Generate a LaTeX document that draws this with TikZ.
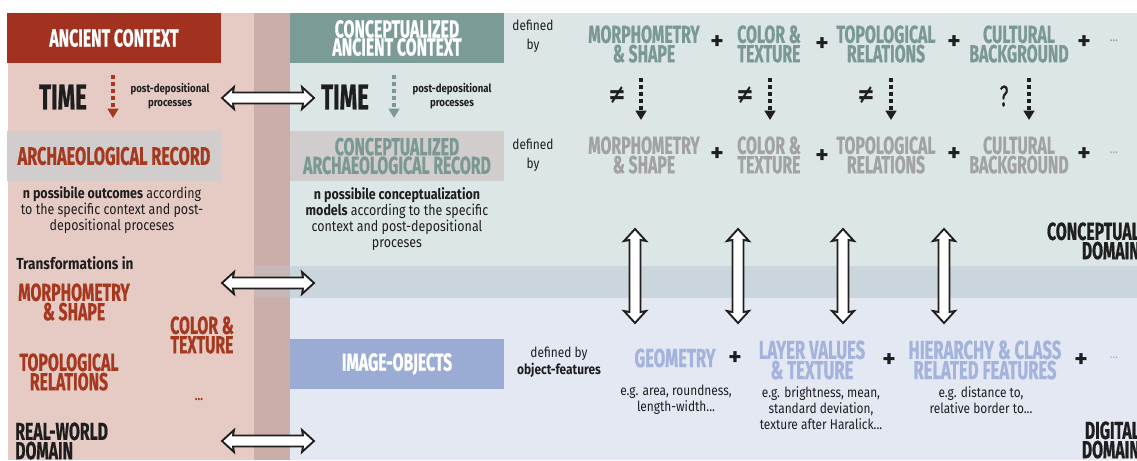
\documentclass[tikz,border=0pt]{standalone}
\usepackage{fontspec}
\setmainfont[FakeStretch=0.85]{Fira Sans}
\newfontfamily\cf[FakeStretch=0.64,FakeBold=0.6]{Fira Sans}
\newfontfamily\tf[FakeStretch=0.62,FakeBold=0.6]{Fira Sans}
\newfontfamily\pf{Fira Sans}
\newfontfamily\dv[FakeStretch=0.8]{DejaVu Sans}
\usetikzlibrary{arrows.meta}
\definecolor{pinkbg}{HTML}{E6CBC5}
\definecolor{stripc}{HTML}{CBAEAA}
\definecolor{stripband}{HTML}{C6B7B8}
\definecolor{tealbg}{HTML}{DCE6E6}
\definecolor{bandbg}{HTML}{CAD6DB}
\definecolor{lavbg}{HTML}{E4E8F3}
\definecolor{redbox}{HTML}{A2321F}
\definecolor{tealbox}{HTML}{7B9B97}
\definecolor{graybox}{HTML}{D1CDCC}
\definecolor{lavbox}{HTML}{9BACD4}
\definecolor{redtxt}{HTML}{A5381F}
\definecolor{tealtxt}{HTML}{7A9994}
\definecolor{graytxt}{HTML}{A2A2A2}
\definecolor{lavtxt}{HTML}{A3B3DC}
\definecolor{ink}{HTML}{1E1E1E}
\begin{document}
\begin{tikzpicture}[x=0.75pt,y=-0.75pt,
  boxn/.style={minimum width=160.5pt,minimum height=38pt,inner sep=0pt,align=center},
  hd/.style={font=\cf\bfseries\fontsize{18.5}{13.5}\selectfont},
  hd2/.style={font=\cf\bfseries\fontsize{18.5}{14}\selectfont},
  hdl/.style={font=\cf\bfseries\fontsize{19}{13}\selectfont},
  item/.style={font=\cf\bfseries\fontsize{18.5}{14.5}\selectfont,align=center,inner sep=0pt},
  itemb/.style={font=\cf\bfseries\fontsize{19.5}{13.5}\selectfont,align=center,inner sep=0pt},
  timet/.style={font=\tf\bfseries\fontsize{27}{27}\selectfont,text=ink,inner sep=0pt},
  pdp/.style={font=\bfseries\fontsize{8.5}{10.5}\selectfont,align=center,text=ink,inner sep=0pt},
  body/.style={font=\fontsize{11}{12}\selectfont,align=center,text=ink,inner sep=0pt},
  desc/.style={font=\fontsize{10.5}{12}\selectfont,align=center,text=ink,inner sep=0pt},
  small/.style={font=\fontsize{10.5}{14}\selectfont,align=center,text=ink,inner sep=0pt},
  plus/.style={font=\pf\bfseries\fontsize{19}{19}\selectfont,text=ink,inner sep=0pt},
  neqs/.style={font=\dv\bfseries\fontsize{20}{20}\selectfont,text=ink,inner sep=0pt},
  dom/.style={font=\cf\bfseries\fontsize{18.5}{13}\selectfont,text=ink,inner sep=0pt},
  dotarr/.style={line width=2.8pt,dash pattern=on 3pt off 2.2pt,-{Triangle[width=8pt,length=7pt]}},
  dblsty/.style={draw=ink,line width=1.4pt,fill=white,line join=miter},
  pics/dbl/.style={code={
    \draw[dblsty] (-#1,0) -- (-#1+12,-11) -- (-#1+11,-5.5) -- (#1-11,-5.5) -- (#1-12,-11)
      -- (#1,0) -- (#1-12,11) -- (#1-11,5.5) -- (-#1+11,5.5) -- (-#1+12,11) -- cycle;}}
]
\useasboundingbox (0,0) rectangle (1137,460);
\fill[white] (0,0) rectangle (1137,460);
% backgrounds
\fill[pinkbg] (8,13) rectangle (254,460);
\fill[stripc] (254,13) rectangle (290,460);
\fill[tealbg] (290,13) rectangle (1137,266);
\fill[bandbg] (290,266) rectangle (1137,298);
\fill[stripband] (254,266) rectangle (290,298);
\fill[lavbg] (290,298) rectangle (1137,460);

% ---- left column
\node[boxn,hd,fill=redbox,text=white] (ac) at (114,38) {ANCIENT CONTEXT};
\node[timet] (t1) at (63,97) {TIME};
\coordinate (d1a) at (113,75); \coordinate (d1b) at (113,118);
\draw[dotarr,redtxt] (d1a) -- (d1b);
\node[pdp] (p1) at (170,96) {post-depositional\\processes};
\node[boxn,hdl,fill=graybox,text=redtxt] (ar) at (114,156) {ARCHAEOLOGICAL RECORD};
\node[body] (o1) at (112,210) {\textbf{n possibile outcomes} according\\to the specific context and post-\\depositional proceses};
\node[font=\bfseries\fontsize{12}{12}\selectfont,text=ink,anchor=west,inner sep=0pt] (tr) at (16,263) {Transformations in};
\node[item,text=redtxt] (lm) at (74,302) {MORPHOMETRY\\\&{} SHAPE};
\node[item,text=redtxt] (lc) at (202,335) {COLOR \&\\TEXTURE};
\node[item,text=redtxt] (lt) at (69,372) {TOPOLOGICAL\\RELATIONS};
\node[font=\bfseries\fontsize{10}{10}\selectfont,text=redtxt,inner sep=0pt] (ld) at (199,400) {...};
\node[dom,anchor=west,align=left] (rw) at (15,441) {REAL-WORLD\\DOMAIN};

% ---- horizontal double arrows
\coordinate (h1) at (268,98);
\coordinate (h2) at (268,283);
\coordinate (h3) at (268,441);
\pic at (h1) {dbl=46};
\pic at (h2) {dbl=46};
\pic at (h3) {dbl=46};

% ---- conceptual column
\node[boxn,hd,fill=tealbox,text=white] (cac) at (397,38) {CONCEPTUALIZED\\ANCIENT CONTEXT};
\node[timet] (t2) at (345,97) {TIME};
\coordinate (d2a) at (394,75); \coordinate (d2b) at (394,118);
\draw[dotarr,tealtxt] (d2a) -- (d2b);
\node[pdp] (p2) at (452,96) {post-depositional\\processes};
\node[boxn,hd2,fill=graybox,text=tealtxt] (car) at (397,156) {CONCEPTUALIZED\\ARCHAEOLOGICAL RECORD};
\node[body] (o2) at (397,219) {\textbf{n possibile conceptualization}\\\textbf{models} according to the specific\\context and post-depositional\\proceses};
\node[boxn,hd,fill=lavbox,text=white] (io) at (397,364) {IMAGE-OBJECTS};

% ---- row 1
\node[small] (db1) at (533,36) {defined\\by};
\node[item,text=tealtxt] (m1) at (644,44) {MORPHOMETRY\\\&{} SHAPE};
\node[plus] (pa1) at (717,43) {+};
\node[item,text=tealtxt] (c1) at (769,44) {COLOR \&\\TEXTURE};
\node[plus] (pa2) at (822,45) {+};
\node[item,text=tealtxt] (tp1) at (886,44) {TOPOLOGICAL\\RELATIONS};
\node[plus] (pa3) at (954,43) {+};
\node[item,text=tealtxt] (cb1) at (1019,44) {CULTURAL\\BACKGROUND};
\node[plus] (pa4) at (1084,43) {+};
\node[font=\fontsize{10}{10}\selectfont,text=tealtxt,inner sep=0pt] (e1) at (1114,41) {...};

% ---- inequality row
\node[neqs] (n1) at (617,95) {≠};
\node[neqs] (n2) at (745,95) {≠};
\node[neqs] (n3) at (866,95) {≠};
\node[font=\cf\fontsize{22}{22}\selectfont,text=ink,inner sep=0pt] (n4) at (1004,96) {?};
\foreach \i/\x in {1/641,2/770,3/891,4/1029}{
  \coordinate (ka\i) at (\x,78); \coordinate (kb\i) at (\x,120);
  \draw[dotarr,ink,line width=2.6pt] (ka\i) -- (kb\i);
}

% ---- row 2
\node[small] (db2) at (533,155) {defined\\by};
\node[item,text=graytxt] (m2) at (644,155) {MORPHOMETRY\\\&{} SHAPE};
\node[plus] (pb1) at (717,155) {+};
\node[item,text=graytxt] (c2) at (769,155) {COLOR \&\\TEXTURE};
\node[plus] (pb2) at (822,157) {+};
\node[item,text=graytxt] (tp2) at (886,155) {TOPOLOGICAL\\RELATIONS};
\node[plus] (pb3) at (954,155) {+};
\node[item,text=graytxt] (cb2) at (1019,155) {CULTURAL\\BACKGROUND};
\node[plus] (pb4) at (1084,155) {+};
\node[font=\fontsize{10}{10}\selectfont,text=graytxt,inner sep=0pt] (e2) at (1114,153) {...};

% ---- vertical double arrows
\foreach \i/\x in {1/635,2/738,3/843,4/944}{
  \coordinate (v\i) at (\x,276);
  \pic[rotate=90] at (v\i) {dbl=47};
}

\node[dom,anchor=east,align=right] (cd) at (1140,241) {CONCEPTUAL\\DOMAIN};
\node[dom,anchor=east,align=right] (dd) at (1140,440) {DIGITAL\\DOMAIN};

% ---- row 3
\node[small,font=\fontsize{10.5}{13}\selectfont] (db3) at (559,362) {defined by\\\textbf{object-features}};
\node[itemb,text=lavtxt] (g3) at (675,358) {GEOMETRY};
\node[plus] (pc1) at (735,359) {+};
\node[itemb,text=lavtxt] (l3) at (812,360) {LAYER VALUES\\\&{} TEXTURE};
\node[plus] (pc2) at (889,361) {+};
\node[itemb,text=lavtxt] (h3t) at (985,360) {HIERARCHY \&{} CLASS\\RELATED FEATURES};
\node[plus] (pc3) at (1081,361) {+};
\node[font=\fontsize{10}{10}\selectfont,text=lavtxt,inner sep=0pt] (e3) at (1114,358) {...};
\node[desc] (x1) at (676,400) {e.g. area, roundness,\\length-width...};
\node[desc] (x2) at (821,408) {e.g. brightness, mean,\\standard deviation,\\texture after Haralick...};
\node[desc] (x3) at (981,400) {e.g. distance to,\\relative border to...};
\end{tikzpicture}
\end{document}
